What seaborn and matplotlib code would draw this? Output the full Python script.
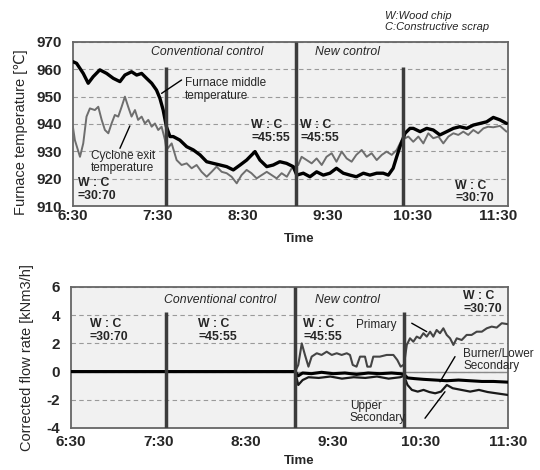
import matplotlib
matplotlib.use('Agg')
import matplotlib.pyplot as plt
import seaborn as sns
import pandas as pd

# time axis: minutes after 6:30
tick_minutes = [0, 60, 120, 180, 240, 300]
tick_labels = ['6:30', '7:30', '8:30', '9:30', '10:30', '11:30']

# furnace middle temperature [C]
furnace_t = [0, 2.6, 7.3, 10.8, 14.3, 19, 23.8, 28.5, 33.2, 36.7, 41.4, 45, 48.5, 52, 55.6, 59,
             61.4, 63.7, 66, 68.5, 70.8, 75.5, 80.3, 85, 89.7, 94.4, 99, 103.8, 108.5, 113.2,
             118, 122.6, 128.5, 132, 136.8, 141.4, 146, 150.8, 155.5, 158, 162.6, 167.3, 172,
             176.7, 181.4, 186, 190.8, 195.5, 200, 205, 209.6, 214.4, 219, 222.6, 226, 228.5,
             230.8, 234.4, 237.9, 240.2, 245, 249.7, 254.3, 259, 263.8, 268.5, 273, 278, 282.6,
             287.3, 292, 296.7, 301.4, 306]
furnace_v = [962.8, 962.2, 958.5, 954.9, 957.3, 959.8, 958.5, 956.7, 955.5, 957.9, 959.1, 957.9,
             958.5, 956.7, 954.9, 952.4, 949.4, 945.1, 939, 935.4, 935.4, 934.1, 931.7, 930.5,
             928.7, 926.2, 925.6, 925, 924.4, 923.2, 925, 926.8, 929.9, 926.8, 924.4, 925, 926.2,
             925.6, 924.4, 921.3, 922, 920.7, 922.5, 921.3, 922, 923.8, 922, 921.3, 920.7, 922,
             921.3, 922, 922, 921.3, 923.8, 928, 931.7, 936.6, 938.4, 938.4, 937.2, 938.4, 937.8,
             936, 937.2, 938.4, 939, 938.4, 939.6, 940.2, 940.8, 942.4, 941.5, 940.2]

# cyclone exit temperature [C]
cyclone_t = [0, 1.4, 5, 7.3, 9.6, 12, 15.5, 17.9, 20.3, 22.6, 25, 27.3, 29.6, 32, 34.4, 36.7, 39,
             41.4, 43.8, 46, 48.5, 50.8, 53.2, 55.6, 57.9, 60.2, 62.6, 65, 66, 69.7, 73.2, 76.7,
             80.3, 83.8, 87.3, 90.8, 94.4, 97.9, 101.4, 105, 108.5, 112, 115.6, 119, 122.6, 126,
             129.7, 133.2, 136.8, 140.3, 143.8, 147.3, 151, 154.4, 159, 161.4, 165, 168.5, 172,
             175.6, 179, 182.6, 186, 189.7, 193.2, 196.7, 200, 203.8, 207.3, 210.8, 214.4, 218,
             221.4, 225, 228.5, 232, 236.7, 240.2, 243.8, 247.3, 250.8, 254.3, 258, 261.4, 265,
             268.5, 272, 275.5, 279, 282.6, 286, 289.7, 293, 296.7, 301.4, 306]
cyclone_v = [939, 934.1, 928, 932.9, 942.7, 945.7, 945.1, 946.3, 941.5, 937.8, 936.6, 940.2, 943.3,
             942.7, 946.3, 950, 946.3, 942.7, 945.1, 941.5, 942.7, 940.2, 941.5, 939, 940.2, 937.8,
             939, 934.1, 930.5, 932.9, 926.8, 925, 925.6, 923.8, 925, 922.5, 920.7, 922.5, 924.4,
             922.5, 922, 920.7, 918.3, 921.3, 923.2, 922, 920.1, 921.3, 922.5, 921.3, 920.1, 922,
             920.7, 923.8, 925, 928, 926.8, 925.6, 927.4, 925, 928, 929.3, 926.2, 929.9, 927.4,
             926.2, 928.7, 930.5, 928, 929.3, 926.8, 928.7, 929.9, 928.7, 930.5, 934.1, 935.4,
             933.5, 935.4, 932.9, 936.6, 934.8, 935.4, 932.9, 935.4, 936.6, 936, 937.2, 936,
             937.8, 936.6, 938.4, 939, 938.8, 939.3, 937.2]

# corrected flow rates [kNm3/h]
primary_t = [0, 153.8, 156, 158.4, 160.6, 163, 165.2, 168.7, 172, 175.5, 179, 182.4, 185.8, 189.3,
             191.5, 193.4, 196, 198.4, 201.8, 203.4, 205.7, 207.5, 212, 216.7, 221.3, 224, 226.3,
             228.6, 230.5, 232.7, 235, 237.3, 239.6, 241.9, 244.2, 246.5, 248.7, 251, 253.3, 255.6,
             257.9, 260.2, 262.5, 264.8, 268.2, 271.6, 275, 278.5, 282, 285.4, 288.8, 292.2, 295.7, 300]
primary_v = [0, 0, 0.47, 2.0, 1.18, 0.35, 1.06, 1.3, 1.18, 1.41, 1.18, 1.3, 1.18, 1.3, 1.18, 0.47,
             0.35, 1.06, 1.06, 0.35, 0.35, 1.06, 1.06, 1.18, 1.18, 0.82, 0.35, 0.5, 1.89, 2.36, 2.12,
             2.48, 2.36, 2.72, 2.48, 2.83, 2.48, 2.95, 2.72, 3.07, 2.6, 2.36, 1.89, 2.36, 2.24, 2.6,
             2.6, 2.83, 2.83, 3.07, 3.19, 3.12, 3.43, 3.36]
burner_t = [0, 153.8, 156, 159, 165, 172, 180, 188, 196, 204, 212, 220, 226, 228.6, 231, 236, 242,
            250, 258, 266, 274, 282, 290, 300]
burner_v = [0, 0, -0.3, -0.1, -0.15, -0.05, -0.15, -0.1, -0.2, -0.1, -0.15, -0.1, -0.15, -0.2,
            -0.45, -0.5, -0.55, -0.6, -0.65, -0.6, -0.65, -0.7, -0.7, -0.75]
upper_t = [0, 153.8, 156, 159, 163, 170, 178, 186, 194, 202, 210, 218, 226, 228.6, 231, 234, 238,
           242, 246, 250, 254, 258, 262, 268, 274, 280, 286, 292, 300]
upper_v = [0, 0, -0.95, -0.6, -0.4, -0.45, -0.35, -0.5, -0.4, -0.45, -0.35, -0.5, -0.4, -0.3,
           -0.95, -1.3, -1.42, -1.3, -1.45, -1.54, -1.42, -0.95, -1.18, -1.3, -1.42, -1.3, -1.45,
           -1.54, -1.66]

# control switch times and how high the markers reach
switch_top_t = [65.4, 157.4, 233.0]
switch_top_end = [961, 970, 961]
switch_bot_t = [65.0, 153.8, 228.8]
switch_bot_end = [4.25, 6, 4.25]

sns.set_theme(style='white')
plt.rcParams['font.family'] = ['Liberation Sans', 'DejaVu Sans']

fig = plt.figure(figsize=(5.4, 4.7), dpi=100)
ax1 = fig.add_axes([0.135, 0.5617, 0.8056, 0.349])
ax2 = fig.add_axes([0.1315, 0.0894, 0.8093, 0.300])

for ax in (ax1, ax2):
    ax.set_facecolor('#f1f1f1')
    for s in ax.spines.values():
        s.set_color('#666666')
        s.set_linewidth(1.3)
    ax.yaxis.grid(True, ls=(0, (4, 3)), color='#9a9a9a', lw=0.8)
    ax.xaxis.grid(False)
    ax.set_xticks(tick_minutes)
    ax.set_xticklabels(tick_labels)
    ax.tick_params(axis='x', direction='in', length=3, width=1, color='#666666', labelsize=11)
    ax.tick_params(axis='y', length=0, pad=8, labelsize=11)
    for lab in ax.get_xticklabels() + ax.get_yticklabels():
        lab.set_fontweight('bold')

# ---- top: furnace temperature
top = pd.DataFrame({'t': furnace_t, 'v': furnace_v})
cyc = pd.DataFrame({'t': cyclone_t, 'v': cyclone_v})
sns.lineplot(data=cyc, x='t', y='v', ax=ax1, color='#6e6e6e', lw=1.4, zorder=3)
sns.lineplot(data=top, x='t', y='v', ax=ax1, color='black', lw=2.4, zorder=4)
ax1.vlines(switch_top_t, 910, switch_top_end, color='#3c3c3c', lw=2.5, zorder=5)
ax1.set_xlim(0, 307)
ax1.set_ylim(910, 970)
ax1.set_yticks([910, 920, 930, 940, 950, 960, 970])
for lab in ax1.get_yticklabels():
    lab.set_fontweight('bold')
ax1.tick_params(axis='x', pad=2)
ax1.set_xlabel('Time', fontsize=9.5, fontweight='bold')
ax1.xaxis.set_label_coords(0.52, -0.165)
ax1.set_ylabel('Furnace temperature [℃]', fontsize=10.5)
ax1.yaxis.set_label_coords(-0.103, 0.45)

ax1.text(95, 966.3, 'Conventional control', style='italic', fontsize=8.8, ha='center', va='center')
ax1.text(194, 966.3, 'New control', style='italic', fontsize=8.8, ha='center', va='center')
ax1.text(79, 952.6, 'Furnace middle\ntemperature', fontsize=8.5, ha='left', va='center',
         linespacing=1.1, zorder=6)
ax1.plot([62.6, 76.7], [951.2, 956.1], color='black', lw=1, zorder=6)
ax1.text(35.3, 926.1, 'Cyclone exit\ntemperature', fontsize=8.5, ha='center', va='center',
         linespacing=1.0, zorder=6)
ax1.plot([40.2, 33.2], [939.3, 931.1], color='black', lw=1, zorder=6)
wc = dict(fontsize=8.8, fontweight='bold', ha='left', va='center', linespacing=1.05, zorder=6)
ax1.text(3.5, 916, 'W : C\n=30:70', **wc)
ax1.text(125.7, 937.2, 'W : C\n=45:55', **wc)
ax1.text(160.3, 937.2, 'W : C\n=45:55', **wc)
ax1.text(269.7, 915.2, 'W : C\n=30:70', **wc)

fig.text(0.713, 0.954, 'W:Wood chip\nC:Constructive scrap', style='italic', fontsize=8,
         ha='left', va='center', linespacing=1.1)

# ---- bottom: corrected flow rate
ax2.axhline(0, color='#8a8a8a', lw=1, zorder=2)
sns.lineplot(data=pd.DataFrame({'t': primary_t, 'v': primary_v}), x='t', y='v', ax=ax2,
             color='#444444', lw=1.5, zorder=3)
sns.lineplot(data=pd.DataFrame({'t': upper_t, 'v': upper_v}), x='t', y='v', ax=ax2,
             color='#1a1a1a', lw=1.6, zorder=3)
sns.lineplot(data=pd.DataFrame({'t': burner_t, 'v': burner_v}), x='t', y='v', ax=ax2,
             color='black', lw=2.2, zorder=4)
ax2.vlines(switch_bot_t, -4, switch_bot_end, color='#3c3c3c', lw=2.5, zorder=5)
ax2.set_xlim(0, 300)
ax2.set_ylim(-4, 6)
ax2.set_yticks([-4, -2, 0, 2, 4, 6])
ax2.set_yticklabels(['-4', '-2', '0', '2', '4', '6'], fontweight='bold')
ax2.tick_params(axis='x', pad=5)
ax2.set_xlabel('Time', fontsize=9.5, fontweight='bold')
ax2.xaxis.set_label_coords(0.522, -0.19)
ax2.set_ylabel('Corrected flow rate [kNm3/h]', fontsize=10.5)
ax2.yaxis.set_label_coords(-0.085, 0.496)

ax2.text(102.6, 5.08, 'Conventional control', style='italic', fontsize=8.8, ha='center', va='center')
ax2.text(189.5, 5.08, 'New control', style='italic', fontsize=8.8, ha='center', va='center')
ax2.text(13, 2.91, 'W : C\n=30:70', **wc)
ax2.text(87.4, 2.91, 'W : C\n=45:55', **wc)
ax2.text(159.5, 2.91, 'W : C\n=45:55', **wc)
ax2.text(269.1, 4.9, 'W : C\n=30:70', **wc)
ax2.text(209.4, 3.3, 'Primary', fontsize=8.5, ha='center', va='center')
ax2.plot([233.9, 244.2], [3.43, 2.83], color='black', lw=1, zorder=6)
ax2.text(269.1, 0.82, 'Burner/Lower\nSecondary', fontsize=8.5, ha='left', va='center',
         linespacing=1.0, zorder=6)
ax2.plot([263.6, 253.3], [1.06, -0.72], color='black', lw=1, zorder=6)
ax2.text(191.5, -2.9, 'Upper\nSecondary', fontsize=8.5, ha='left', va='center',
         linespacing=1.0, zorder=6)
ax2.plot([243, 256.7], [-3.31, -1.43], color='black', lw=1, zorder=6)

fig.savefig('out.png', dpi=100)
